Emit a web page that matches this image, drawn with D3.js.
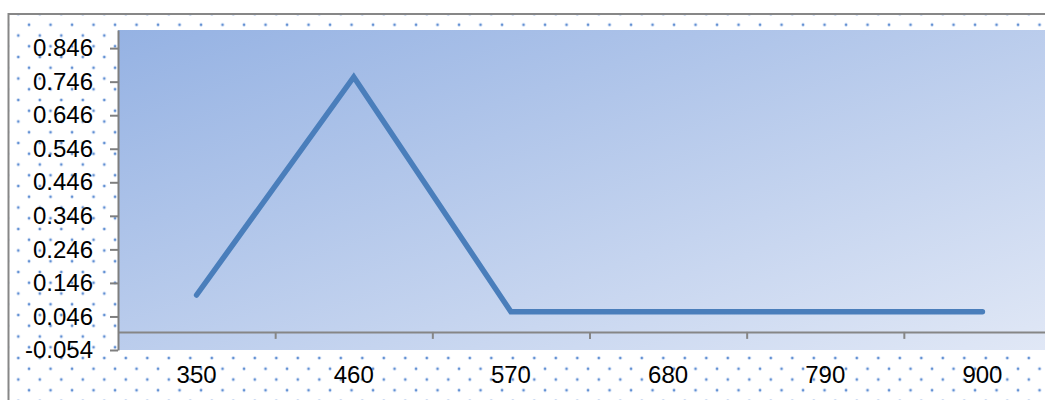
<!DOCTYPE html>
<html>
<head>
<meta charset="utf-8">
<script src="https://cdn.jsdelivr.net/npm/d3@7"></script>
<style>
  html, body { margin: 0; padding: 0; background: #fff; }
  svg { display: block; }
  text { font-family: "Liberation Sans", Arial, sans-serif; fill: #000; }
</style>
</head>
<body>
<svg id="chart" width="1045" height="400"></svg>
<script>
// Wavelength categories and measured values
const categories = ["350", "460", "570", "680", "790", "900"];
const values = [0.11, 0.76, 0.06, 0.06, 0.06, 0.06];
const yTickValues = [-0.054, 0.046, 0.146, 0.246, 0.346, 0.446, 0.546, 0.646, 0.746, 0.846];
const yDomain = [-0.054, 0.9];

const svg = d3.select("#chart");
const W = 1045, H = 400;

const plot = { left: 118, top: 30, right: 1061, bottom: 350 };
const labelFont = "24px";

const defs = svg.append("defs");

// Dotted chart-area fill
const pat = defs.append("pattern")
  .attr("id", "dots")
  .attr("patternUnits", "userSpaceOnUse")
  .attr("x", 18.3).attr("y", 14)
  .attr("width", 21.5).attr("height", 21.5);
[[0, 0], [10.75, 10.75], [21.5, 0], [0, 21.5], [21.5, 21.5]].forEach(([cx, cy]) => {
  pat.append("circle").attr("cx", cx).attr("cy", cy).attr("r", 1.6)
    .attr("fill", "#a6c0e8");
  pat.append("circle").attr("cx", cx).attr("cy", cy).attr("r", 1.0)
    .attr("fill", "#4a80cc");
});

// Plot-area gradient
const grad = defs.append("linearGradient")
  .attr("id", "plotGrad")
  .attr("x1", 0).attr("y1", 0).attr("x2", 1).attr("y2", 1);
grad.append("stop").attr("offset", "0%").attr("stop-color", "#95b2e3");
grad.append("stop").attr("offset", "100%").attr("stop-color", "#e1e8f6");

// Chart area with border
svg.append("rect")
  .attr("x", 8.5).attr("y", 14)
  .attr("width", W + 50).attr("height", H + 50)
  .attr("fill", "url(#dots)")
  .attr("stroke", "#878787").attr("stroke-width", 2);

// Plot area
svg.append("rect")
  .attr("x", plot.left).attr("y", plot.top)
  .attr("width", plot.right - plot.left).attr("height", plot.bottom - plot.top)
  .attr("fill", "url(#plotGrad)");

// Scales
const x = d3.scaleBand().domain(categories).range([plot.left, plot.right]).padding(0);
const y = d3.scaleLinear().domain(yDomain).range([plot.bottom, plot.top]);
const xEdge = d3.scaleLinear().domain([0, categories.length]).range([plot.left, plot.right]);

// Horizontal axis line at zero with tick marks between categories
const xAxisLine = svg.append("g")
  .attr("transform", `translate(0,${y(0)})`)
  .call(d3.axisBottom(xEdge)
    .tickValues(d3.range(1, categories.length))
    .tickFormat("")
    .tickSize(7)
    .tickSizeOuter(0));
xAxisLine.select(".domain").attr("stroke", "#868686").attr("stroke-width", 2);
xAxisLine.selectAll(".tick line").attr("stroke", "#868686").attr("stroke-width", 2);

// Category labels below the plot area
const xLabels = svg.append("g")
  .attr("transform", `translate(0,${plot.bottom})`)
  .call(d3.axisBottom(x).tickSize(0).tickPadding(16));
xLabels.select(".domain").remove();
xLabels.selectAll("text")
  .style("font-family", '"Liberation Sans", Arial, sans-serif')
  .style("font-size", labelFont)
  .attr("fill", "#000");

// Vertical axis
const yAxis = svg.append("g")
  .attr("transform", `translate(${plot.left},0)`)
  .call(d3.axisLeft(y)
    .tickValues(yTickValues)
    .tickFormat(v => v.toFixed(3))
    .tickSize(8)
    .tickPadding(17)
    .tickSizeOuter(0));
yAxis.select(".domain").attr("stroke", "#7f7f7f").attr("stroke-width", 2);
yAxis.selectAll(".tick line").attr("stroke", "#7f7f7f").attr("stroke-width", 2);
yAxis.selectAll("text")
  .style("font-family", '"Liberation Sans", Arial, sans-serif')
  .style("font-size", labelFont)
  .attr("fill", "#000");

// Data line
const line = d3.line()
  .x((d, i) => x(categories[i]) + x.bandwidth() / 2)
  .y(d => y(d));

svg.append("path")
  .datum(values)
  .attr("d", line)
  .attr("fill", "none")
  .attr("stroke", "#4a7ebb")
  .attr("stroke-width", 5.5)
  .attr("stroke-linecap", "round")
  .attr("stroke-linejoin", "miter");
</script>
</body>
</html>
